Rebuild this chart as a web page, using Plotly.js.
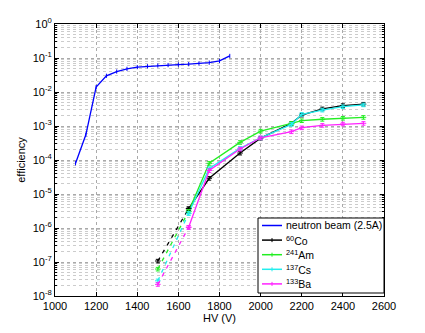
<!DOCTYPE html>
<html>
<head>
<meta charset="utf-8">
<script src="https://cdn.plot.ly/plotly-3.0.1.min.js"></script>
<style>html,body{margin:0;padding:0;background:#fff;}#chart{width:425px;height:333px;}</style>
</head>
<body>
<div id="chart"></div>
<script>
// Neutron beam efficiency vs HV
const neutronHV  = [1100, 1150, 1200, 1250, 1300, 1350, 1400, 1450, 1500, 1550, 1600, 1650, 1700, 1750, 1800, 1850];
const neutronEff = [8e-5, 5.5e-4, 0.014, 0.030, 0.040, 0.048, 0.054, 0.057, 0.060, 0.062, 0.064, 0.066, 0.069, 0.073, 0.082, 0.115];

// Gamma sources: extrapolated (dashed) segment and measured (solid) segment
const dashHV  = [1500, 1650];
const solidHV = [1650, 1750, 1900, 2000, 2150, 2200, 2300, 2400, 2500];

const co60Dash  = [1.07e-7, 3.7e-6];
const co60      = [3.7e-6, 2.9e-5, 1.6e-4, 4.4e-4, 1.2e-3, 2.1e-3, 3.2e-3, 4.0e-3, 4.4e-3];
const am241Dash = [6.2e-8, 3.1e-6];
const am241     = [3.1e-6, 8.0e-5, 3.3e-4, 7.1e-4, 1.2e-3, 1.44e-3, 1.58e-3, 1.7e-3, 1.8e-3];
const cs137Dash = [2.8e-8, 2.7e-6];
const cs137     = [2.7e-6, 5.6e-5, 2.2e-4, 4.5e-4, 1.12e-3, 2.2e-3, 2.95e-3, 3.7e-3, 4.2e-3];
const ba133Dash = [2.2e-8, 1.05e-6];
const ba133     = [1.05e-6, 4.9e-5, 2.1e-4, 4.5e-4, 6.8e-4, 8.9e-4, 1.05e-3, 1.15e-3, 1.2e-3];

const neutronName  = 'neutron beam (2.5A)';
const neutronColor = '#0000ff';
const sourceNames  = ['<sup>60</sup>Co', '<sup>241</sup>Am', '<sup>137</sup>Cs', '<sup>133</sup>Ba'];
const sourceColors = ['#000000', '#22ee22', '#22eeee', '#ff22ff'];
const sourceDash   = [co60Dash, am241Dash, cs137Dash, ba133Dash];
const sourceSolid  = [co60, am241, cs137, ba133];
const yTickVals  = [1e-8, 1e-7, 1e-6, 1e-5, 1e-4, 1e-3, 1e-2, 1e-1, 1];
const yTickText  = ['10<sup>-8</sup>', '10<sup>-7</sup>', '10<sup>-6</sup>', '10<sup>-5</sup>', '10<sup>-4</sup>', '10<sup>-3</sup>', '10<sup>-2</sup>', '10<sup>-1</sup>', '10<sup>0</sup>'];
const xTickVals = [1000, 1200, 1400, 1600, 1800, 2000, 2200, 2400, 2600];

const traces = [{
  x: neutronHV, y: neutronEff, type: 'scatter', mode: 'lines+markers',
  name: neutronName, showlegend: false,
  line: {color: neutronColor, width: 1.3},
  marker: {symbol: 'line-ns-open', size: 3, color: neutronColor, line: {width: 1, color: neutronColor}}
}];

for (let i = 0; i < sourceNames.length; i++) {
  traces.push({
    x: solidHV, y: sourceSolid[i], type: 'scatter', mode: 'lines+markers',
    name: sourceNames[i], showlegend: false,
    line: {color: sourceColors[i], width: 1.3},
    marker: {symbol: 'line-ew-open', size: 4, color: sourceColors[i], line: {width: 1, color: sourceColors[i]}},
    error_y: {type: 'percent', value: 12, color: sourceColors[i], thickness: 1, width: 2}
  });
}
for (let i = 0; i < sourceNames.length; i++) {
  traces.push({
    x: dashHV, y: sourceDash[i], type: 'scatter', mode: 'lines+markers',
    name: sourceNames[i], showlegend: false,
    line: {color: sourceColors[i], width: 1.3, dash: '4px,5px'},
    marker: {symbol: 'line-ew-open', size: 4, color: sourceColors[i], line: {width: 1, color: sourceColors[i]}},
    error_y: {type: 'percent', value: 12, color: sourceColors[i], thickness: 1, width: 2}
  });
}

// Legend box (MATLAB style), drawn in plot-area (paper) coordinates
const M = {l: 55, r: 41, t: 24, b: 37};
const W = 425, H = 333;
const pw = W - M.l - M.r, ph = H - M.t - M.b;
const px = v => (v - M.l) / pw;
const py = v => (H - M.b - v) / ph;

const legNames  = [neutronName].concat(sourceNames);
const legColors = [neutronColor].concat(sourceColors);
const shapes = [{
  type: 'rect', xref: 'paper', yref: 'paper',
  x0: px(258), x1: px(384), y0: py(293), y1: py(218),
  fillcolor: '#ffffff', line: {color: '#000000', width: 1}, layer: 'above'
}];
const annotations = [];
for (let i = 0; i < legNames.length; i++) {
  const yc = 225.5 + i * 14.6;
  shapes.push({type: 'line', xref: 'paper', yref: 'paper', x0: px(262), x1: px(282), y0: py(yc), y1: py(yc),
    line: {color: legColors[i], width: 1.5}, layer: 'above'});
  if (i > 0) {
    shapes.push({type: 'line', xref: 'paper', yref: 'paper', x0: px(272), x1: px(272), y0: py(yc - 2), y1: py(yc + 2),
      line: {color: legColors[i], width: 1}, layer: 'above'});
  }
  annotations.push({xref: 'paper', yref: 'paper', x: px(283.5), y: py(yc), xanchor: 'left', yanchor: 'middle',
    text: legNames[i], showarrow: false, font: {size: 10.5, color: '#000'}});
}

const layout = {
  width: W, height: H,
  margin: M,
  paper_bgcolor: '#ffffff', plot_bgcolor: '#ffffff',
  font: {family: 'Liberation Sans, Arial, sans-serif', size: 11, color: '#000'},
  showlegend: false,
  shapes: shapes,
  annotations: annotations,
  xaxis: {
    range: [1000, 2600], tickvals: xTickVals,
    ticks: 'inside', ticklen: 4, tickcolor: '#000',
    showline: true, linecolor: '#000', linewidth: 1, mirror: 'ticks',
    showgrid: true, gridcolor: '#aaaaaa', griddash: 'dot', gridwidth: 1,
    zeroline: false,
    tickfont: {size: 11},
    title: {text: 'HV (V)', font: {size: 11}, standoff: 3}
  },
  yaxis: {
    type: 'log', range: [-8, 0], tickvals: yTickVals, ticktext: yTickText,
    ticks: 'inside', ticklen: 4, tickcolor: '#000',
    showline: true, linecolor: '#000', linewidth: 1, mirror: 'ticks',
    showgrid: true, gridcolor: '#aaaaaa', griddash: 'dot', gridwidth: 1,
    minor: {dtick: 'D1', showgrid: true, gridcolor: '#cccccc', griddash: 'dot', ticks: 'inside', ticklen: 2, tickcolor: '#000'},
    zeroline: false,
    tickfont: {size: 11},
    title: {text: 'efficiency', font: {size: 11}, standoff: 4}
  }
};

Plotly.newPlot('chart', traces, layout, {displayModeBar: false, staticPlot: true});
</script>
</body>
</html>
